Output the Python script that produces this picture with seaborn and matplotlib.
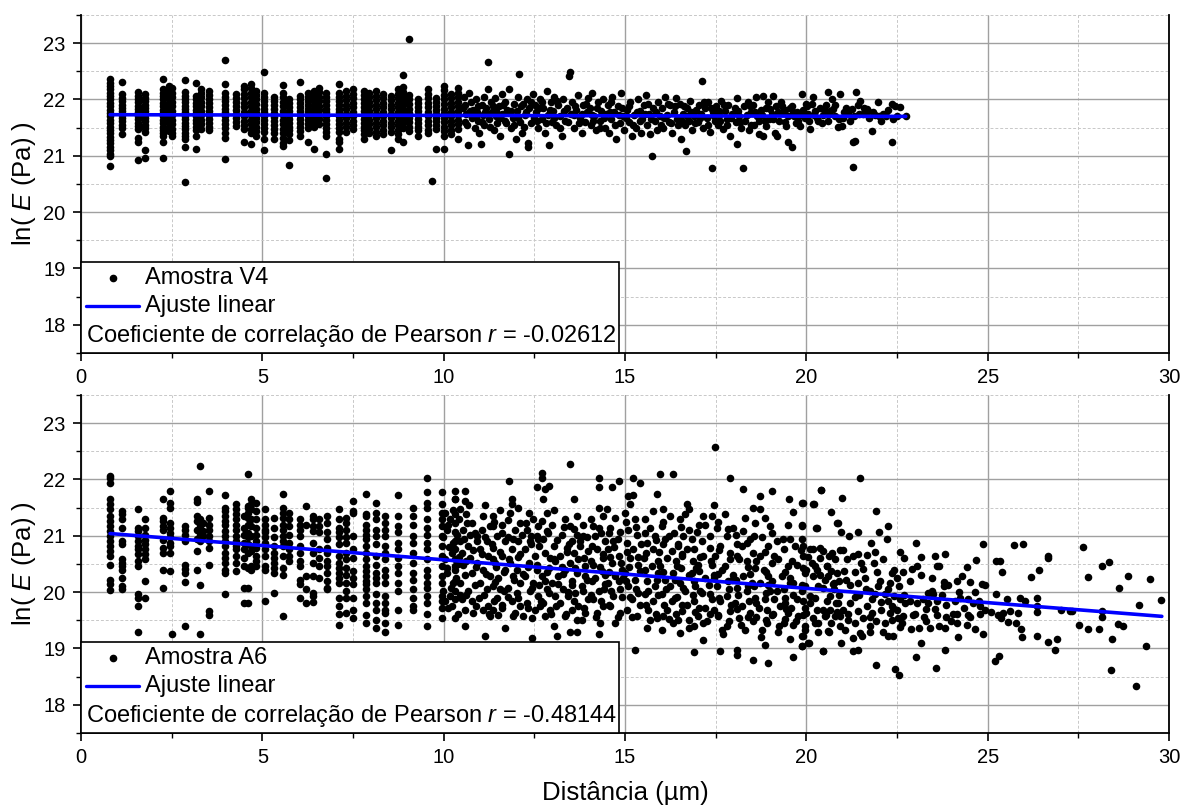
import numpy as np
import pandas as pd
import matplotlib
matplotlib.use("Agg")
import matplotlib.pyplot as plt
import seaborn as sns
from matplotlib.patches import Rectangle
from matplotlib.ticker import MultipleLocator

# ---------------- data ----------------
x_ticks = [0, 5, 10, 15, 20, 25, 30]
y_ticks = [18, 19, 20, 21, 22, 23]

# Amostra V4 : vertical columns of measurements (x in um, ln(E))
v4_col_x = [0.80, 1.12, 1.58, 1.77, 2.25, 2.42, 2.52, 2.87, 3.17, 3.31, 3.54, 3.97, 4.27, 4.50,
            4.69, 4.83, 5.04, 5.33, 5.56, 5.74, 6.05, 6.25, 6.43, 6.57, 6.76, 7.12, 7.31, 7.49,
            7.81, 7.95, 8.13, 8.32, 8.55, 8.73, 8.87, 9.05, 9.28, 9.56, 9.68, 9.79, 10.02, 10.20, 10.39]
v4_col_y = [
    [22.36, 22.30, 22.24, 22.18, 22.12, 22.06, 22.00, 21.94, 21.88, 21.82, 21.76, 21.70, 21.64, 21.58, 21.52, 21.46, 21.40, 21.34, 21.28, 21.22, 21.16, 21.10, 21.04, 21.00, 20.82],
    [22.31, 22.09, 22.03, 21.97, 21.91, 21.85, 21.79, 21.73, 21.67, 21.61, 21.55, 21.49, 21.38],
    [22.13, 22.07, 22.01, 21.95, 21.89, 21.83, 21.77, 21.71, 21.65, 21.59, 21.53, 21.47, 21.32, 21.25, 20.93],
    [22.09, 22.03, 21.97, 21.91, 21.85, 21.79, 21.73, 21.67, 21.61, 21.55, 21.49, 21.43, 21.10, 20.97],
    [22.37, 22.18, 22.12, 22.06, 22.00, 21.94, 21.88, 21.82, 21.76, 21.70, 21.64, 21.58, 21.52, 21.46, 21.40, 21.36, 21.24, 20.97],
    [22.24, 22.16, 22.08, 22.00, 21.92, 21.84, 21.76, 21.68, 21.60, 21.52, 21.44],
    [22.20, 22.12, 22.04, 21.96, 21.88, 21.80, 21.72, 21.64, 21.56, 21.48, 21.40, 21.36],
    [22.35, 22.13, 22.07, 22.01, 21.95, 21.89, 21.83, 21.77, 21.71, 21.65, 21.59, 21.53, 21.47, 21.41, 21.35, 21.30, 21.15, 20.53],
    [22.30, 22.06, 22.00, 21.94, 21.88, 21.82, 21.76, 21.70, 21.64, 21.58, 21.52, 21.46, 21.36, 21.12],
    [22.18, 22.12, 22.04, 21.96, 21.88, 21.80, 21.72, 21.64, 21.56, 21.48],
    [22.15, 22.08, 22.01, 21.94, 21.87, 21.80, 21.73, 21.66, 21.59, 21.52, 21.45],
    [22.70, 22.27, 22.12, 22.05, 21.98, 21.91, 21.84, 21.77, 21.70, 21.63, 21.56, 21.49, 21.41, 21.32, 20.94],
    [22.09, 22.02, 21.95, 21.88, 21.81, 21.74, 21.67, 21.60, 21.53],
    [22.24, 22.18, 22.10, 22.02, 21.94, 21.86, 21.78, 21.70, 21.62, 21.54, 21.47, 21.24],
    [22.27, 22.20, 22.12, 22.04, 21.96, 21.88, 21.80, 21.72, 21.64, 21.56, 21.48, 21.41, 21.21],
    [22.15, 22.08, 22.00, 21.92, 21.84, 21.76, 21.68, 21.60, 21.52, 21.44, 21.36],
    [22.49, 22.12, 22.05, 21.98, 21.91, 21.84, 21.77, 21.70, 21.63, 21.56, 21.49, 21.42, 21.30, 21.10],
    [22.04, 21.97, 21.90, 21.83, 21.76, 21.69, 21.62, 21.55, 21.48, 21.41, 21.30],
    [22.25, 22.12, 22.04, 21.96, 21.88, 21.80, 21.72, 21.64, 21.56, 21.48, 21.40, 21.32, 21.22, 21.18],
    [22.01, 21.94, 21.87, 21.80, 21.73, 21.66, 21.59, 21.52, 21.45, 21.38, 21.28, 20.84],
    [22.31, 22.07, 22.00, 21.93, 21.86, 21.79, 21.72, 21.65, 21.58, 21.51, 21.44, 21.36],
    [22.12, 22.05, 21.98, 21.91, 21.84, 21.77, 21.70, 21.63, 21.56, 21.49, 21.24],
    [22.15, 22.07, 21.99, 21.91, 21.83, 21.75, 21.67, 21.59, 21.51, 21.12],
    [22.21, 22.13, 22.05, 21.97, 21.89, 21.81, 21.73, 21.65, 21.57],
    [22.12, 22.05, 21.98, 21.91, 21.84, 21.77, 21.70, 21.63, 21.56, 21.49, 21.42, 21.36, 21.04, 20.60],
    [22.28, 22.12, 22.05, 21.98, 21.91, 21.84, 21.77, 21.70, 21.63, 21.56, 21.49, 21.42, 21.30, 21.24, 21.12],
    [22.15, 22.07, 21.99, 21.91, 21.83, 21.75, 21.67, 21.59, 21.51, 21.43],
    [22.18, 22.10, 22.02, 21.94, 21.86, 21.78, 21.70, 21.62, 21.54, 21.47],
    [22.15, 22.08, 22.01, 21.94, 21.87, 21.80, 21.73, 21.66, 21.59, 21.52, 21.45, 21.38, 21.30],
    [22.12, 22.04, 21.96, 21.88, 21.80, 21.72, 21.64, 21.56, 21.48, 21.40],
    [22.15, 22.07, 21.99, 21.91, 21.83, 21.75, 21.67, 21.59, 21.51, 21.43, 21.36],
    [22.10, 22.02, 21.94, 21.86, 21.78, 21.70, 21.62, 21.54, 21.46, 21.38],
    [22.07, 21.99, 21.91, 21.83, 21.75, 21.67, 21.59, 21.51, 21.43, 21.10],
    [22.18, 22.10, 22.02, 21.94, 21.86, 21.78, 21.70, 21.62, 21.54, 21.46, 21.38, 21.30],
    [22.44, 22.22, 22.14, 22.06, 21.98, 21.90, 21.82, 21.74, 21.66, 21.58, 21.50, 21.24],
    [23.07, 22.08, 22.00, 21.92, 21.84, 21.76, 21.68, 21.60, 21.52, 21.44],
    [22.01, 21.94, 21.87, 21.80, 21.73, 21.66, 21.59, 21.52, 21.45, 21.36],
    [22.18, 22.10, 22.02, 21.94, 21.86, 21.78, 21.70, 21.62, 21.54, 21.46, 21.41],
    [20.55],
    [22.03, 21.96, 21.89, 21.82, 21.75, 21.68, 21.61, 21.54, 21.47, 21.12],
    [22.24, 22.16, 22.08, 22.00, 21.92, 21.84, 21.76, 21.68, 21.60, 21.52, 21.44, 21.36, 21.13],
    [22.10, 22.02, 21.94, 21.86, 21.78, 21.70, 21.62, 21.54, 21.46, 21.38],
    [22.20, 22.12, 22.04, 21.96, 21.88, 21.80, 21.72, 21.64, 21.56, 21.48, 21.30],
]
# Amostra V4 : scattered measurements beyond 10.4 um (x, ln E)
v4_pts = [
    (10.55, 22.05), (10.60, 21.90), (10.62, 21.75), (10.58, 21.60), (10.68, 21.19), (10.70, 22.12), (10.75, 21.95),
    (10.80, 21.82), (10.78, 21.68), (10.85, 21.50), (10.90, 22.00), (10.92, 21.78), (10.95, 21.62), (10.98, 21.40),
    (11.03, 21.21), (11.05, 21.90), (11.08, 21.72), (11.10, 22.05), (11.12, 21.55), (11.18, 21.85), (11.22, 22.67),
    (11.23, 22.18), (11.25, 21.65), (11.30, 21.95), (11.33, 21.78), (11.38, 21.45), (11.42, 22.02), (11.45, 21.70),
    (11.48, 21.58), (11.52, 21.88), (11.55, 21.35), (11.60, 22.10), (11.62, 21.75), (11.68, 21.62), (11.70, 21.95),
    (11.75, 21.82), (11.80, 21.03), (11.80, 22.18), (11.85, 21.50), (11.90, 21.68), (11.95, 21.92), (11.98, 21.30),
    (12.02, 21.80), (12.05, 22.05), (12.08, 22.45), (12.10, 21.60), (12.15, 21.40), (12.20, 21.92), (12.25, 21.72),
    (12.30, 22.00), (12.33, 21.15), (12.33, 21.22), (12.35, 21.85), (12.40, 21.58), (12.45, 22.10), (12.48, 21.68),
    (12.52, 21.90), (12.55, 21.78), (12.60, 21.50), (12.65, 22.00), (12.70, 21.65), (12.75, 21.85), (12.80, 21.40),
    (12.85, 22.15), (12.88, 21.72), (12.91, 21.20), (12.95, 21.95), (12.98, 21.60), (13.02, 21.80), (13.05, 22.05),
    (13.10, 21.55), (13.15, 21.90), (13.20, 21.70), (13.25, 21.35), (13.30, 22.00), (13.35, 21.62), (13.40, 21.85),
    (13.45, 22.42), (13.48, 22.48), (13.50, 21.75), (13.55, 21.95), (13.60, 21.50), (13.65, 21.82), (13.70, 22.08),
    (13.75, 21.68), (13.80, 21.40), (13.85, 21.90), (13.90, 21.60), (13.95, 21.78), (13.98, 22.02), (14.02, 21.85),
    (14.05, 21.55), (14.10, 22.12), (14.15, 21.70), (14.20, 21.45), (14.25, 21.95), (14.30, 21.62), (14.35, 21.80),
    (14.40, 22.00), (14.45, 21.50), (14.48, 21.75), (14.52, 21.90), (14.55, 21.40), (14.60, 21.65), (14.65, 22.05),
    (14.70, 21.78), (14.75, 21.30), (14.80, 21.88), (14.85, 21.58), (14.90, 22.12), (14.95, 21.70), (14.98, 21.45),
    (15.05, 21.82), (15.10, 21.60), (15.15, 21.95), (15.20, 21.35), (15.25, 21.72), (15.30, 21.50), (15.35, 22.00),
    (15.40, 21.80), (15.45, 21.40), (15.48, 21.65), (15.52, 21.90), (15.58, 22.08), (15.60, 21.55), (15.65, 21.75),
    (15.70, 21.38), (15.75, 20.99), (15.78, 21.85), (15.82, 21.62), (15.88, 21.45), (15.92, 21.95), (15.96, 21.70),
    (16.02, 21.85), (16.05, 21.50), (16.10, 22.05), (16.15, 21.72), (16.20, 21.60), (16.25, 21.90), (16.30, 21.40),
    (16.35, 21.78), (16.40, 22.02), (16.45, 21.55), (16.48, 21.68), (16.52, 21.92), (16.55, 21.30), (16.60, 21.75),
    (16.65, 21.55), (16.68, 21.08), (16.70, 21.85), (16.75, 21.62), (16.80, 21.98), (16.85, 21.45), (16.90, 21.70),
    (16.95, 21.82), (17.02, 21.60), (17.05, 21.90), (17.10, 21.75), (17.13, 22.32), (17.15, 21.50), (17.20, 21.85),
    (17.25, 21.68), (17.30, 21.95), (17.35, 21.42), (17.41, 20.79), (17.42, 21.78), (17.48, 21.62), (17.52, 21.88),
    (17.55, 21.55), (17.60, 21.72), (17.65, 21.98), (17.70, 21.48), (17.75, 21.80), (17.80, 21.65), (17.85, 21.90),
    (17.90, 21.35), (17.95, 21.75), (18.02, 21.85), (18.05, 21.60), (18.08, 21.21), (18.10, 22.02), (18.15, 21.70),
    (18.20, 21.50), (18.26, 20.79), (18.28, 21.88), (18.32, 21.62), (18.38, 21.95), (18.42, 21.45), (18.47, 21.78),
    (18.52, 21.90), (18.55, 21.55), (18.60, 22.05), (18.65, 21.70), (18.70, 21.38), (18.75, 21.82), (18.81, 22.06),
    (18.81, 21.35), (18.85, 21.62), (18.90, 21.53), (18.95, 21.95), (19.00, 21.83), (19.07, 22.06), (19.09, 21.65),
    (19.13, 21.41), (19.18, 21.35), (19.22, 21.78), (19.30, 21.95), (19.32, 21.89), (19.36, 21.77), (19.40, 21.60),
    (19.45, 21.53), (19.50, 21.24), (19.55, 21.85), (19.59, 21.16), (19.60, 21.89), (19.65, 21.70), (19.73, 21.77),
    (19.78, 21.62), (19.82, 21.53), (19.89, 22.09), (19.92, 21.82), (19.96, 21.68), (20.01, 21.89), (20.05, 21.75),
    (20.10, 21.47), (20.15, 21.92), (20.19, 22.05), (20.24, 21.80), (20.28, 21.68), (20.33, 21.62), (20.38, 21.85),
    (20.45, 21.72), (20.55, 21.90), (20.59, 22.14), (20.60, 21.62), (20.65, 21.80), (20.70, 22.00), (20.74, 21.83),
    (20.80, 21.70), (20.88, 21.52), (20.93, 22.09), (20.97, 21.53), (21.02, 21.68), (21.08, 21.85), (21.15, 21.75),
    (21.25, 21.83), (21.29, 21.24), (21.29, 20.81), (21.30, 21.70), (21.34, 21.27), (21.37, 22.13), (21.42, 21.90),
    (21.48, 21.98), (21.55, 21.75), (21.60, 21.85), (21.66, 21.83), (21.72, 21.68), (21.80, 21.44), (21.85, 21.77),
    (21.90, 21.72), (21.98, 21.95), (22.05, 21.61), (22.12, 21.75), (22.20, 21.70), (22.35, 21.92), (22.37, 21.25),
    (22.40, 21.65), (22.45, 21.88), (22.58, 21.86), (22.74, 21.71),
]
# Amostra V4 : further points inside the dense band (10.5 - 22.5 um)
v4_pts_band = [
    (10.52, 21.85), (10.65, 21.55), (10.72, 21.80), (10.88, 21.70), (10.95, 21.88), (11.06, 21.60), (11.15, 21.78),
    (11.28, 21.52), (11.36, 21.88), (11.44, 21.80), (11.56, 21.68), (11.64, 21.90), (11.72, 21.58), (11.86, 21.80),
    (11.93, 21.55), (12.04, 21.68), (12.12, 21.88), (12.22, 21.52), (12.28, 21.78), (12.42, 21.95), (12.58, 21.62),
    (12.62, 21.85), (12.72, 21.95), (12.82, 21.58), (12.92, 21.82), (13.04, 21.68), (13.12, 21.98), (13.22, 21.50),
    (13.32, 21.80), (13.42, 21.60), (13.58, 21.72), (13.62, 21.88), (13.72, 21.58), (13.82, 21.75), (13.92, 21.92),
    (14.08, 21.72), (14.12, 21.62), (14.22, 21.85), (14.32, 21.50), (14.42, 21.68), (14.58, 21.78), (14.62, 21.95),
    (14.72, 21.55), (14.82, 21.72), (14.92, 21.85), (15.02, 21.68), (15.12, 21.88), (15.22, 21.55), (15.32, 21.78),
    (15.42, 21.62), (15.55, 21.75), (15.62, 21.92), (15.72, 21.65), (15.85, 21.78), (15.98, 21.55), (16.08, 21.68),
    (16.18, 21.92), (16.28, 21.58), (16.38, 21.88), (16.42, 21.65), (16.58, 21.62), (16.62, 21.88), (16.72, 21.70),
    (16.82, 21.78), (16.92, 21.58), (17.08, 21.68), (17.18, 21.95), (17.28, 21.55), (17.38, 21.85), (17.45, 21.70),
    (17.58, 21.80), (17.62, 21.62), (17.72, 21.90), (17.82, 21.55), (17.92, 21.68), (18.12, 21.80), (18.18, 21.60),
    (18.35, 21.72), (18.45, 21.88), (18.48, 21.55), (18.58, 21.78), (18.68, 21.62), (18.78, 21.72), (18.88, 21.85),
    (18.98, 21.65), (19.05, 21.75), (19.15, 21.88), (19.25, 21.62), (19.42, 21.82), (19.48, 21.70), (19.62, 21.78),
    (19.70, 21.58), (19.85, 21.72), (19.98, 21.92), (20.08, 21.62), (20.22, 21.72), (20.42, 21.58), (20.50, 21.80),
    (20.62, 21.75), (20.78, 21.90), (20.90, 21.66), (21.05, 21.78), (21.20, 21.62), (21.45, 21.75), (21.70, 21.80),
    (22.00, 21.70), (22.25, 21.82), (22.50, 21.70),
]
v4_fit_x = [0.80, 22.74]
v4_fit_y = [21.73, 21.70]

# Amostra A6 : vertical columns of measurements
a6_col_x = [0.80, 1.12, 1.58, 1.77, 2.25, 2.45, 2.52, 2.87, 3.20, 3.27, 3.35, 3.54, 3.97, 4.27, 4.50,
            4.60, 4.69, 4.83, 5.06, 5.33, 5.56, 5.74, 6.05, 6.20, 6.40, 6.57, 6.79, 7.12, 7.31, 7.49,
            7.85, 8.14, 8.38, 8.73, 9.16, 9.55, 9.95, 10.30]
a6_col_y = [
    [22.07, 22.02, 21.94, 21.65, 21.56, 21.47, 21.35, 21.26, 21.17, 21.08, 21.00, 20.91, 20.82, 20.73, 20.64, 20.49, 20.22, 20.15, 20.03],
    [21.44, 21.38, 21.29, 21.14, 20.91, 20.85, 20.58, 20.52, 20.46, 20.40, 20.25, 20.10, 20.05],
    [21.47, 21.14, 21.08, 21.00, 20.91, 20.82, 20.76, 20.67, 20.55, 20.46, 19.96, 19.90, 19.75, 19.30],
    [21.29, 21.14, 21.02, 20.93, 20.85, 20.76, 20.67, 20.58, 20.19, 19.90],
    [21.65, 21.32, 21.26, 21.17, 21.11, 20.93, 20.79, 20.70, 20.40, 20.08],
    [21.80, 21.59, 21.50, 21.23, 21.14, 21.05, 20.97, 20.88, 20.82, 20.70, 20.37],
    [19.26],
    [21.17, 21.11, 21.02, 20.91, 20.49, 20.41, 20.34, 20.18, 19.39],
    [21.65, 21.60, 21.36, 21.26, 21.11, 20.94, 20.73, 20.40],
    [22.24, 21.29, 21.20, 21.14, 21.02, 20.91, 20.12, 19.25],
    [21.23, 21.08, 21.00],
    [21.80, 21.32, 21.20, 21.11, 21.00, 20.91, 20.79, 20.49, 19.66, 19.60],
    [21.72, 21.50, 21.44, 21.35, 21.26, 21.19, 21.08, 21.00, 20.91, 20.82, 20.70, 20.61, 20.52, 20.40, 20.34, 19.96],
    [21.56, 21.47, 21.38, 21.29, 21.20, 21.11, 21.00, 20.91, 20.82, 20.76, 20.64, 20.52, 20.37],
    [21.35, 21.14, 21.02, 20.88, 20.76, 20.61, 20.46, 20.08, 19.81],
    [22.09, 21.53, 21.50, 21.40, 21.32, 21.20, 21.05, 20.97, 20.85, 20.70, 20.43, 20.07, 19.81],
    [21.65, 21.56, 21.47, 21.29, 21.17, 21.00, 20.82, 20.73, 20.46, 20.40],
    [21.59, 21.44, 21.29, 21.14, 21.02, 20.91, 20.79, 20.64, 20.55, 20.46],
    [21.47, 21.29, 21.20, 21.11, 21.06, 20.97, 20.88, 20.76, 20.64, 20.46, 20.40, 19.84],
    [21.32, 21.14, 20.97, 20.82, 20.70, 20.61, 20.52, 20.43, 20.34, 19.99],
    [21.74, 21.50, 21.41, 21.32, 21.20, 21.11, 21.00, 20.91, 20.82, 20.64, 20.43, 20.31, 19.57],
    [21.41, 21.29, 21.17, 21.02, 20.88, 20.76, 20.64, 20.55],
    [21.29, 21.20, 21.11, 21.00, 20.82, 20.70, 20.55, 20.46, 20.22, 20.14, 19.90],
    [21.53, 21.20, 20.28, 20.05, 19.81],
    [21.35, 21.29, 21.17, 21.08, 20.88, 20.70, 20.52, 20.28, 19.99, 19.93, 19.82],
    [21.29, 21.17, 21.06, 20.76, 20.61, 20.46, 20.25],
    [21.35, 21.23, 21.06, 20.94, 20.79, 20.70, 20.55, 20.46, 20.34, 20.19, 20.08, 20.05],
    [21.47, 21.29, 21.14, 21.06, 20.97, 20.85, 20.64, 20.52, 20.43, 20.34, 20.25, 20.17, 19.90, 19.75, 19.62, 19.41],
    [21.32, 21.23, 21.11, 20.97, 20.88, 20.70, 20.58, 20.43, 20.31, 20.17, 20.02, 19.90, 19.63],
    [21.62, 21.44, 21.41, 21.00, 20.76, 20.61, 20.37, 20.25, 20.14, 19.90, 19.69, 19.54],
    [21.74, 21.38, 21.35, 21.20, 21.11, 21.02, 20.94, 20.82, 20.70, 20.58, 20.46, 20.37, 20.28, 20.19, 20.14, 20.05, 19.93, 19.81, 19.60, 19.45],
    [21.59, 21.41, 21.29, 21.11, 21.00, 20.85, 20.64, 20.49, 20.34, 20.25, 20.17, 19.96, 19.81, 19.69, 19.51, 19.37],
    [21.35, 21.23, 21.11, 21.00, 20.82, 20.70, 20.58, 20.40, 20.28, 20.17, 19.93, 19.81, 19.69, 19.63, 19.45, 19.30],
    [21.72, 21.35, 21.17, 21.06, 20.88, 20.76, 20.61, 20.46, 20.34, 20.17, 20.02, 19.69, 19.42],
    [21.50, 21.35, 21.20, 21.00, 20.88, 20.70, 20.52, 20.34, 20.22, 20.05, 19.90, 19.75, 19.69],
    [22.03, 21.77, 21.59, 21.50, 21.29, 21.14, 21.02, 20.88, 20.76, 20.58, 20.40, 20.28, 20.17, 20.08, 19.93, 19.81, 19.62, 19.39],
    [21.77, 21.56, 21.41, 21.29, 21.17, 21.00, 20.82, 20.64, 20.46, 20.28, 20.17, 19.93, 19.84, 19.72, 19.54],
    [21.65, 21.38, 21.23, 21.06, 20.91, 20.76, 20.58, 20.40, 20.19, 20.02, 19.87],
]
# Amostra A6 : scattered measurements beyond 10 um (x, ln E)
a6_pts = [
    (10.04, 21.41), (10.31, 21.80), (10.31, 21.65), (10.18, 21.29), (10.08, 21.11), (9.99, 20.97), (10.27, 20.88),
    (10.22, 20.70), (10.04, 20.58), (10.31, 20.46), (10.08, 20.34), (10.27, 20.17), (9.99, 20.02), (10.18, 19.93),
    (10.04, 19.84), (10.22, 19.75), (10.31, 19.54),
    (10.59, 21.80), (10.59, 21.62), (10.45, 21.47), (10.41, 21.29), (10.64, 21.23), (10.77, 21.23), (10.54, 21.11),
    (10.73, 21.02), (10.45, 20.91), (10.68, 20.82), (10.50, 20.70), (10.73, 20.61), (10.54, 20.49), (10.77, 20.34),
    (10.45, 20.17), (10.68, 20.02), (10.50, 19.87), (10.77, 19.84), (10.59, 19.69), (10.59, 19.39), (10.82, 19.63),
    (11.09, 21.35), (11.05, 21.11), (11.28, 21.17), (10.91, 21.00), (11.19, 20.91), (11.00, 20.76), (11.23, 20.64),
    (10.91, 20.52), (11.09, 20.40), (11.28, 20.28), (11.00, 20.17), (11.19, 20.05), (10.96, 19.90), (11.23, 19.75),
    (11.09, 19.69), (11.14, 19.22), (11.28, 19.57),
    (11.37, 21.35), (11.37, 21.17), (11.60, 21.20), (11.46, 21.00), (11.69, 20.91), (11.37, 20.79), (11.60, 20.64),
    (11.42, 20.52), (11.69, 20.40), (11.51, 20.25), (11.37, 20.11), (11.65, 20.02), (11.46, 19.90), (11.60, 19.78),
    (11.37, 19.69), (11.69, 19.37), (11.51, 19.60),
    (11.81, 21.97), (11.88, 21.65), (11.88, 21.56), (11.83, 21.41), (12.11, 21.23), (11.97, 21.11), (11.78, 20.97),
    (12.06, 20.91), (11.88, 20.76), (12.11, 20.67), (11.83, 20.52), (12.01, 20.40), (11.92, 20.28), (12.11, 20.17),
    (11.78, 20.08), (12.01, 19.99), (11.88, 19.84), (12.11, 19.75), (11.97, 19.63),
    (12.36, 21.41), (12.47, 21.29), (12.29, 21.11), (12.57, 21.00), (12.38, 20.91), (12.24, 20.76), (12.52, 20.64),
    (12.34, 20.52), (12.57, 20.40), (12.24, 20.28), (12.47, 20.17), (12.38, 20.02), (12.61, 19.93), (12.29, 19.81),
    (12.52, 19.69), (12.43, 19.54), (12.43, 19.19), (12.66, 19.75),
    (12.70, 22.12), (12.70, 22.03), (12.57, 21.86), (12.80, 21.83), (12.89, 21.89), (12.75, 21.65), (12.84, 21.41),
    (12.70, 21.26), (12.98, 21.20), (12.84, 21.08), (12.75, 20.94), (13.03, 20.82), (12.80, 20.70), (13.07, 20.55),
    (12.89, 20.43), (12.70, 20.28), (12.98, 20.17), (12.84, 20.05), (13.07, 19.93), (12.75, 19.81), (12.93, 19.69),
    (12.80, 19.57), (13.03, 19.39), (13.12, 19.22),
    (13.48, 22.27), (13.58, 21.66), (13.35, 21.29), (13.48, 21.17), (13.25, 21.02), (13.53, 20.91), (13.39, 20.79),
    (13.21, 20.64), (13.48, 20.52), (13.35, 20.40), (13.16, 20.28), (13.53, 20.19), (13.30, 20.05), (13.44, 19.93),
    (13.21, 19.81), (13.53, 19.69), (13.35, 19.57), (13.48, 19.30), (13.67, 19.30),
    (13.67, 21.35), (13.85, 21.20), (13.67, 21.02), (13.94, 20.97), (13.76, 20.82), (13.99, 20.73), (13.71, 20.58),
    (13.90, 20.46), (13.67, 20.34), (13.94, 20.22), (13.81, 20.11), (13.62, 19.99), (13.99, 19.87), (13.71, 19.75),
    (13.90, 19.63), (13.67, 19.51),
    (14.29, 22.03), (14.29, 21.87), (14.29, 21.50), (14.13, 21.17), (14.40, 21.35), (14.27, 21.14), (14.17, 21.00),
    (14.45, 20.91), (14.22, 20.76), (14.40, 20.61), (14.13, 20.49), (14.36, 20.37), (14.17, 20.25), (14.45, 20.14),
    (14.27, 20.02), (14.13, 19.87), (14.40, 19.75), (14.22, 19.63), (14.31, 19.45), (14.27, 19.25),
    (14.63, 21.86), (14.84, 21.97), (14.50, 21.47), (14.73, 21.32), (14.59, 21.14), (14.86, 21.06), (14.68, 20.91),
    (14.54, 20.76), (14.82, 20.64), (14.63, 20.52), (14.91, 20.40), (14.73, 20.28), (14.54, 20.17), (14.86, 20.05),
    (14.68, 19.93), (14.59, 19.75), (14.86, 19.63), (14.73, 19.45),
    (15.09, 21.71), (15.23, 22.02), (15.41, 21.93), (15.23, 21.72), (15.14, 21.56), (15.00, 21.41), (15.28, 21.29),
    (15.09, 21.11), (15.32, 21.02), (15.05, 20.88), (15.23, 20.76), (15.14, 20.61), (15.37, 20.49), (15.00, 20.34),
    (15.28, 20.22), (15.09, 20.11), (15.37, 19.99), (15.18, 19.87), (15.05, 19.69), (15.32, 19.57), (15.28, 18.97),
    (15.87, 21.74), (15.97, 22.09), (15.78, 21.44), (15.55, 21.29), (15.69, 21.14), (15.83, 21.00), (15.60, 20.88),
    (15.78, 20.76), (15.51, 20.61), (15.74, 20.46), (15.92, 20.34), (15.60, 20.19), (15.83, 20.11), (15.55, 19.96),
    (15.78, 19.84), (15.64, 19.69), (15.87, 19.54), (15.60, 19.37), (16.01, 19.33),
    (16.33, 22.09), (16.06, 21.47), (16.24, 21.35), (16.01, 21.17), (16.20, 21.00), (16.06, 20.85), (16.29, 20.73),
    (16.15, 20.61), (15.97, 20.46), (16.33, 20.34), (16.10, 20.22), (16.24, 20.11), (16.01, 19.96), (16.29, 19.84),
    (16.15, 19.69), (16.06, 19.57), (16.33, 19.45),
    (16.70, 21.56), (16.75, 21.47), (16.66, 21.38), (16.52, 21.29), (16.75, 21.11), (16.61, 21.00), (16.47, 20.85),
    (16.70, 20.76), (16.56, 20.64), (16.43, 20.46), (16.75, 20.31), (16.52, 20.17), (16.66, 20.02), (16.38, 19.90),
    (16.70, 19.78), (16.56, 19.66), (16.47, 19.51), (16.75, 19.37), (16.52, 19.28), (16.89, 18.93),
    (17.16, 21.35), (17.21, 21.20), (16.98, 21.06), (17.12, 20.91), (16.89, 20.76), (17.16, 20.64), (17.02, 20.49),
    (16.84, 20.34), (17.21, 20.25), (16.93, 20.11), (17.12, 19.99), (16.89, 19.84), (17.21, 19.72), (17.02, 19.57),
    (17.16, 19.45), (16.89, 19.39), (17.14, 19.15),
    (17.48, 22.57), (17.46, 21.55), (17.39, 21.35), (17.53, 21.14), (17.34, 21.00), (17.62, 20.82), (17.48, 20.64),
    (17.39, 20.49), (17.67, 20.40), (17.44, 20.25), (17.53, 20.11), (17.34, 19.96), (17.62, 19.84), (17.44, 19.69),
    (17.57, 19.57), (17.67, 19.33), (17.62, 18.95),
    (17.90, 22.02), (17.76, 21.38), (17.99, 21.14), (17.80, 21.00), (18.08, 20.85), (17.90, 20.70), (18.13, 20.58),
    (17.76, 20.46), (17.99, 20.31), (17.85, 20.19), (18.08, 20.08), (17.80, 19.93), (18.03, 19.81), (17.90, 19.66),
    (18.13, 19.54), (17.80, 19.39), (18.08, 18.98), (18.08, 18.89),
    (18.25, 21.83), (18.72, 21.71), (18.54, 21.50), (18.31, 21.32), (18.59, 21.23), (18.26, 21.08), (18.45, 20.94),
    (18.22, 20.82), (18.54, 20.70), (18.36, 20.55), (18.59, 20.43), (18.26, 20.28), (18.49, 20.17), (18.36, 20.02),
    (18.59, 19.90), (18.22, 19.75), (18.45, 19.63), (18.54, 19.48), (18.31, 19.33), (18.52, 18.79),
    (19.05, 21.80), (18.72, 21.47), (18.86, 21.32), (19.00, 21.17), (18.77, 20.97), (18.95, 20.82), (18.72, 20.64),
    (19.05, 20.52), (18.82, 20.40), (18.95, 20.28), (18.72, 20.17), (19.00, 20.02), (18.86, 19.87), (18.68, 19.72),
    (19.05, 19.60), (18.91, 19.45), (18.77, 19.33), (18.86, 19.07), (18.93, 18.74),
    (19.52, 21.65), (19.64, 21.43), (19.18, 20.91), (19.50, 21.20), (19.37, 20.76), (19.23, 20.58), (19.50, 20.46),
    (19.32, 20.28), (19.55, 20.17), (19.18, 20.02), (19.41, 19.90), (19.28, 19.75), (19.50, 19.63), (19.37, 19.45),
    (19.23, 19.30), (19.55, 19.16), (19.62, 18.85),
    (19.90, 21.58), (19.87, 21.17), (19.69, 20.82), (19.92, 20.64), (19.73, 20.49), (19.96, 20.34), (19.64, 20.17),
    (19.87, 20.02), (19.73, 19.87), (19.96, 19.72), (19.78, 19.57), (19.64, 19.42), (19.92, 19.22), (19.87, 19.04),
    (20.06, 19.10),
    (20.41, 21.81), (20.19, 21.56), (20.29, 21.14), (20.84, 21.23), (20.10, 20.76), (20.38, 20.61), (20.70, 20.70),
    (20.56, 20.46), (20.19, 20.28), (20.84, 20.34), (20.33, 20.11), (20.65, 19.93), (20.10, 19.81), (20.47, 19.69),
    (20.79, 19.57), (20.24, 19.45), (20.61, 19.30), (20.47, 18.95), (20.88, 19.81), (20.75, 20.17),
    (21.47, 22.02), (20.40, 21.81), (20.98, 21.67), (20.67, 21.42), (21.93, 21.44), (20.22, 21.56), (19.89, 21.58),
    (19.87, 21.20), (20.26, 21.14), (20.86, 21.22), (20.95, 21.07), (21.17, 21.00), (21.41, 21.07), (22.00, 21.06),
    (22.26, 21.17), (22.21, 20.95), (21.78, 20.88), (23.01, 20.87), (24.88, 20.85), (25.73, 20.83), (25.98, 20.85),
    (27.63, 20.80), (26.67, 20.64), (26.67, 20.60), (28.35, 20.54), (28.14, 20.46), (25.22, 20.56), (25.33, 20.56),
    (25.40, 20.36), (26.41, 20.40), (26.19, 20.27), (27.77, 20.27), (28.87, 20.28), (29.47, 20.24), (28.62, 20.08),
    (29.18, 19.77), (29.79, 19.86), (26.37, 19.90), (25.89, 19.89), (26.02, 19.84), (25.54, 19.88), (25.24, 19.96),
    (24.69, 20.57), (24.44, 20.44), (24.28, 20.28), (24.14, 20.20), (24.51, 20.18), (24.83, 20.14), (24.92, 20.12),
    (23.82, 20.67), (23.54, 20.65), (23.59, 20.47), (23.66, 20.47), (23.79, 20.18), (23.80, 20.11), (23.45, 20.02),
    (23.50, 19.96), (23.34, 19.99), (23.17, 20.62), (23.04, 20.46), (22.90, 20.41), (22.67, 20.36), (22.58, 20.72),
    (22.69, 20.60), (22.42, 20.39), (22.35, 20.34), (22.49, 20.25), (22.30, 20.17), (22.03, 20.20), (21.98, 20.11),
    (21.66, 20.66), (21.88, 20.72), (21.87, 20.52), (21.57, 20.41), (21.43, 20.67), (21.29, 20.64), (21.11, 20.59),
    (21.01, 20.74), (20.92, 20.74), (20.79, 20.58), (20.63, 20.64), (20.46, 20.73), (20.37, 20.79), (20.19, 20.77),
    (20.05, 20.62), (19.91, 20.82), (19.87, 20.94), (20.00, 20.40), (20.23, 20.46), (20.37, 20.31), (20.56, 20.46),
    (20.69, 20.37), (20.51, 20.22), (20.74, 20.15), (20.90, 20.20), (21.09, 20.22), (21.34, 20.36), (21.43, 20.17),
    (21.61, 20.25), (21.75, 20.02), (21.89, 19.96), (22.16, 19.96), (22.26, 19.84), (22.41, 19.93), (22.58, 19.87),
    (22.72, 19.81), (22.85, 19.84), (23.04, 19.81), (23.22, 19.87), (23.36, 19.81), (23.59, 19.84), (23.86, 19.78),
    (24.09, 19.84), (24.23, 19.90), (24.46, 19.87), (24.60, 19.81), (24.78, 19.75), (24.92, 19.69), (25.10, 19.64),
    (25.29, 19.60), (25.43, 19.63), (25.61, 19.66), (25.84, 19.63), (26.35, 19.75), (26.36, 19.64), (27.02, 19.69),
    (27.31, 19.66), (28.14, 19.66), (28.14, 19.56), (19.96, 20.11), (20.10, 19.93), (20.28, 19.69), (20.56, 19.84),
    (20.65, 19.69), (20.83, 19.81), (21.01, 19.69), (21.20, 19.81), (21.43, 19.66), (21.66, 19.75), (21.80, 19.63),
    (22.07, 19.69), (22.30, 19.63), (22.49, 19.69), (22.67, 19.57), (20.00, 19.63), (20.19, 19.54), (20.33, 19.45),
    (20.51, 19.57), (20.69, 19.45), (20.92, 19.57), (21.15, 19.51), (21.34, 19.45), (21.57, 19.54), (21.75, 19.39),
    (21.93, 19.48), (22.16, 19.45), (22.35, 19.51), (22.53, 19.54), (19.96, 19.39), (19.87, 19.22), (19.89, 19.04),
    (20.05, 19.10), (20.33, 19.29), (20.60, 19.31), (20.92, 19.39), (21.06, 19.33), (21.29, 19.19), (21.47, 19.28),
    (21.52, 19.23), (21.75, 19.29), (22.12, 19.29), (22.26, 19.23), (22.38, 19.22), (22.58, 19.38), (22.88, 19.34),
    (23.11, 19.37), (23.31, 19.48), (23.42, 19.37), (23.66, 19.40), (23.82, 19.37), (23.98, 19.48), (24.14, 19.45),
    (24.44, 19.41), (24.65, 19.34), (24.86, 19.26), (24.17, 19.20), (23.17, 19.10), (23.82, 18.97), (20.95, 19.10),
    (20.46, 18.95), (21.29, 18.95), (21.43, 18.97), (21.93, 18.70), (22.44, 18.64), (22.56, 18.53), (23.01, 18.85),
    (23.57, 18.65), (25.21, 18.77), (25.31, 18.86), (25.36, 19.54), (25.56, 19.47), (25.79, 19.45), (25.91, 19.35),
    (25.95, 19.20), (26.37, 19.22), (26.67, 19.12), (26.85, 18.98), (26.92, 19.17), (27.52, 19.41), (27.77, 19.35),
    (28.07, 19.35), (28.44, 19.16), (28.60, 19.44), (28.73, 19.39), (29.36, 19.05), (28.39, 18.62), (29.08, 18.34),
    (27.28, 19.66),
]
# Amostra A6 : further points inside the dense cloud (10 - 25 um)
a6_pts_band = [
    (10.12, 21.20), (10.38, 21.02), (10.15, 20.80), (10.42, 20.62), (10.10, 20.42), (10.35, 20.25), (10.20, 20.08),
    (10.45, 19.95), (10.12, 19.72), (10.40, 19.62), (10.25, 21.45), (10.40, 20.50),
    (10.62, 21.38), (10.85, 21.05), (10.55, 20.95), (10.82, 20.75), (10.62, 20.55), (10.88, 20.45), (10.58, 20.30),
    (10.85, 20.12), (10.62, 19.95), (10.90, 19.75), (10.70, 21.55), (10.92, 20.90),
    (11.15, 21.55), (11.40, 21.25), (11.15, 20.98), (11.32, 20.85), (11.05, 20.68), (11.35, 20.58), (11.18, 20.32),
    (11.42, 20.18), (11.12, 19.95), (11.38, 19.85), (11.25, 19.62), (11.45, 20.45),
    (11.55, 21.45), (11.78, 21.28), (11.62, 21.05), (11.90, 20.95), (11.55, 20.72), (11.80, 20.58), (11.65, 20.35),
    (11.95, 20.22), (11.55, 20.05), (11.78, 19.92), (11.62, 19.72), (11.92, 19.58),
    (12.05, 21.50), (12.28, 21.22), (12.15, 21.02), (12.42, 20.85), (12.05, 20.62), (12.32, 20.45), (12.18, 20.32),
    (12.44, 20.08), (12.05, 19.90), (12.32, 19.72), (12.20, 19.58), (12.40, 21.00),
    (12.60, 21.18), (12.88, 21.05), (12.62, 20.82), (12.92, 20.60), (12.58, 20.48), (12.85, 20.35), (12.62, 20.12),
    (12.90, 19.98), (12.68, 19.85), (12.95, 19.62), (12.60, 20.95), (12.78, 20.20),
    (13.05, 21.45), (13.32, 21.15), (13.12, 20.92), (13.40, 20.72), (13.05, 20.58), (13.30, 20.32), (13.15, 20.15),
    (13.42, 20.00), (13.10, 19.75), (13.38, 19.62), (13.25, 20.45), (13.45, 20.85),
    (13.58, 21.12), (13.85, 21.00), (13.60, 20.70), (13.88, 20.60), (13.62, 20.42), (13.90, 20.28), (13.55, 20.12),
    (13.85, 20.02), (13.60, 19.85), (13.88, 19.72), (13.75, 20.90), (13.80, 19.50),
    (14.05, 21.30), (14.35, 21.05), (14.08, 20.82), (14.38, 20.68), (14.05, 20.55), (14.32, 20.45), (14.10, 20.20),
    (14.42, 20.05), (14.05, 19.95), (14.35, 19.85), (14.20, 19.55), (14.45, 20.30),
    (14.55, 21.05), (14.80, 20.95), (14.58, 20.62), (14.88, 20.52), (14.55, 20.35), (14.82, 20.20), (14.60, 20.02),
    (14.92, 19.92), (14.55, 19.78), (14.80, 19.55), (14.70, 20.80), (14.95, 20.25),
    (15.02, 21.25), (15.30, 21.15), (15.05, 20.72), (15.35, 20.62), (15.10, 20.45), (15.40, 20.38), (15.02, 20.20),
    (15.30, 20.05), (15.15, 19.92), (15.42, 19.78), (15.20, 19.55), (15.45, 20.85),
    (15.55, 21.05), (15.85, 20.92), (15.58, 20.70), (15.90, 20.55), (15.55, 20.40), (15.88, 20.22), (15.62, 20.02),
    (15.92, 19.95), (15.58, 19.78), (15.85, 19.62), (15.70, 19.50), (15.95, 20.72),
    (16.05, 21.25), (16.35, 21.05), (16.10, 20.95), (16.40, 20.55), (16.05, 20.35), (16.38, 20.22), (16.12, 20.05),
    (16.42, 19.92), (16.08, 19.78), (16.40, 19.62), (16.20, 19.52), (16.45, 20.82),
    (16.55, 21.15), (16.85, 20.95), (16.58, 20.68), (16.88, 20.55), (16.55, 20.42), (16.90, 20.20), (16.60, 20.08),
    (16.88, 19.95), (16.58, 19.78), (16.92, 19.65), (16.75, 19.50), (16.95, 20.42),
    (17.05, 21.20), (17.35, 20.78), (17.08, 20.62), (17.38, 20.55), (17.05, 20.38), (17.32, 20.12), (17.08, 20.02),
    (17.40, 19.88), (17.05, 19.72), (17.35, 19.62), (17.25, 19.48), (17.45, 20.30),
    (17.55, 21.25), (17.85, 21.12), (17.60, 20.75), (17.90, 20.58), (17.55, 20.32), (17.88, 20.05), (17.58, 19.90),
    (17.92, 19.78), (17.55, 19.60), (17.88, 19.48), (17.70, 19.25), (17.95, 20.22),
    (18.05, 21.02), (18.35, 20.88), (18.10, 20.65), (18.40, 20.45), (18.05, 20.22), (18.38, 20.10), (18.12, 19.95),
    (18.42, 19.85), (18.08, 19.70), (18.40, 19.55), (18.20, 19.42), (18.45, 20.32),
    (18.55, 21.00), (18.85, 20.72), (18.60, 20.55), (18.90, 20.35), (18.55, 20.10), (18.88, 19.98), (18.62, 19.80),
    (18.92, 19.68), (18.60, 19.55), (18.88, 19.50), (18.75, 19.20), (18.95, 20.12),
    (19.05, 21.05), (19.35, 20.95), (19.10, 20.65), (19.40, 20.35), (19.05, 20.20), (19.38, 20.05), (19.12, 19.88),
    (19.42, 19.80), (19.08, 19.62), (19.40, 19.52), (19.25, 19.40), (19.45, 19.70),
    (19.55, 20.95), (19.85, 20.75), (19.60, 20.55), (19.90, 20.42), (19.55, 20.25), (19.88, 20.12), (19.62, 19.95),
    (19.92, 19.85), (19.58, 19.72), (19.90, 19.60), (19.70, 19.48), (19.95, 19.32),
    (20.15, 20.52), (20.30, 20.40), (20.45, 20.08), (20.60, 20.28), (20.75, 20.05), (20.90, 19.95), (21.05, 20.38),
    (21.20, 20.12), (21.35, 19.92), (21.50, 20.52), (21.65, 20.05), (21.80, 19.88), (21.95, 20.35), (22.10, 20.58),
    (22.25, 20.05), (22.40, 19.72), (22.55, 20.10), (22.70, 19.95), (22.85, 20.20), (23.00, 19.62), (23.15, 20.30),
    (23.30, 19.70), (23.45, 20.25), (23.60, 19.60), (23.75, 19.95), (23.90, 20.12), (24.05, 19.62), (24.20, 20.00),
    (24.35, 19.72), (24.50, 19.55), (24.65, 20.00), (24.80, 19.62), (20.25, 19.90), (20.55, 19.60), (20.85, 19.65),
    (21.15, 19.62), (21.45, 19.95), (21.75, 19.55), (22.05, 19.82), (22.35, 19.75), (22.65, 19.45), (22.95, 19.60),
    (23.25, 19.55), (23.55, 19.70), (23.85, 19.55), (24.15, 19.62), (24.45, 19.60), (24.75, 19.85),
]
a6_fit_x = [0.80, 29.80]
a6_fit_y = [21.04, 19.57]

samples = ["Amostra V4", "Amostra A6"]
pearson_r = ["-0.02612", "-0.48144"]


def build(col_x, col_y, *pt_lists):
    xs, ys = [], []
    for cx, cys in zip(col_x, col_y):
        xs += [cx] * len(cys)
        ys += list(cys)
    for pts in pt_lists:
        xs += [p[0] for p in pts]
        ys += [p[1] for p in pts]
    return pd.DataFrame({"x": xs, "y": ys})


df_v4 = build(v4_col_x, v4_col_y, v4_pts, v4_pts_band)
df_a6 = build(a6_col_x, a6_col_y, a6_pts, a6_pts_band)

# ---------------- style ----------------
sns.set_style("ticks")
plt.rcParams['font.family'] = ['Liberation Sans', 'DejaVu Sans']
plt.rcParams['mathtext.fontset'] = 'custom'
plt.rcParams['mathtext.rm'] = 'Liberation Sans'
plt.rcParams['mathtext.it'] = 'Liberation Sans:italic'
for k in ['text.color', 'axes.labelcolor', 'xtick.color', 'ytick.color']:
    plt.rcParams[k] = 'black'

fig = plt.figure(figsize=(11.81, 8.10), dpi=100)
ax1 = fig.add_axes([0.0686, 0.5642, 0.9213, 0.4173])
ax2 = fig.add_axes([0.0686, 0.0951, 0.9213, 0.4173])

BLUE = (0.0, 0.0, 1.0)


def panel(ax, df, fx, fy, name, r):
    sns.scatterplot(data=df, x="x", y="y", color="black", s=30, linewidth=0,
                    ax=ax, zorder=2, legend=False)
    sns.lineplot(x=fx, y=fy, color=BLUE, lw=2.6, ax=ax, zorder=3)
    ax.set_xlim(0, 30)
    ax.set_ylim(17.5, 23.5)
    ax.set_xticks(x_ticks)
    ax.set_yticks(y_ticks)
    ax.xaxis.set_minor_locator(MultipleLocator(2.5))
    ax.yaxis.set_minor_locator(MultipleLocator(0.5))
    ax.grid(which='major', color='#a0a0a0', lw=1.0, ls='-')
    ax.grid(which='minor', color='#c8c8c8', lw=0.7, ls=(0, (3, 2)))
    ax.set_axisbelow(True)
    for s in ['left', 'bottom', 'right']:
        ax.spines[s].set_color('black')
        ax.spines[s].set_linewidth(1.3)
    ax.spines['top'].set_visible(False)
    ax.tick_params(which='major', direction='out', length=6, width=1.2,
                   labelsize=14.5, pad=5, colors='black', right=False, top=False)
    ax.tick_params(which='minor', direction='out', length=3.5, width=1.0,
                   right=False, top=False)
    ax.set_xlabel("")
    ax.set_ylabel("ln( $\\mathit{E}$ (Pa) )", fontsize=18.5, labelpad=4)

    # legend box
    ax.add_patch(Rectangle((0, 0), 0.4945, 0.269, transform=ax.transAxes,
                           facecolor='white', edgecolor='black', lw=1.2,
                           zorder=5, clip_on=False))
    ax.plot([0.0294], [0.221], 'o', ms=4.5, color='black',
            transform=ax.transAxes, zorder=6)
    ax.text(0.0588, 0.221, name, transform=ax.transAxes, va='center',
            ha='left', fontsize=17, zorder=6)
    ax.plot([0.0046, 0.0533], [0.139, 0.139], color=BLUE, lw=2.4,
            transform=ax.transAxes, zorder=6)
    ax.text(0.0588, 0.139, "Ajuste linear", transform=ax.transAxes,
            va='center', ha='left', fontsize=17, zorder=6)
    ax.text(0.0046, 0.049, "Coeficiente de correlação de Pearson $\\mathit{r}$ = " + r,
            transform=ax.transAxes, va='center', ha='left', fontsize=17, zorder=6)


panel(ax1, df_v4, v4_fit_x, v4_fit_y, samples[0], pearson_r[0])
panel(ax2, df_a6, a6_fit_x, a6_fit_y, samples[1], pearson_r[1])
ax2.set_xlabel("Distância (µm)", fontsize=18.5, labelpad=10)

fig.savefig("out.png", dpi=100)
